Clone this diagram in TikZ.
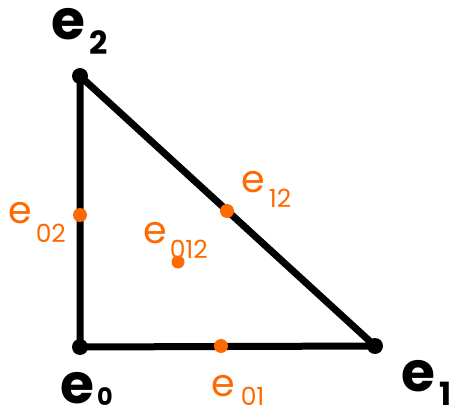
\documentclass[tikz,border=0pt]{standalone}
\usepackage{fontspec}
\setmainfont{Poppins}
\definecolor{orng}{HTML}{FF6A00}
\newcommand{\lbl}[5]{{\fontsize{#1}{#1}\selectfont e}\hspace{#5}\raisebox{-#3}{\fontsize{#2}{#2}\selectfont #4}}
\tikzset{
  vdot/.style={circle,fill=black,inner sep=0pt,minimum size=16pt},
  odot/.style={circle,fill=orng,inner sep=0pt,minimum size=14pt},
  blab/.style={anchor=base west,inner sep=0pt,font=\bfseries},
  olab/.style={anchor=base west,inner sep=0pt,text=orng},
  edge/.style={line width=7pt,line join=round,line cap=round}
}
\begin{document}
\begin{tikzpicture}[x=1pt,y=-1pt]
\useasboundingbox (0,0) rectangle (458,417);
\coordinate (e2) at (80,76);
\coordinate (e0) at (80,347);
\coordinate (e1) at (375,346);
\draw[edge] (e2) -- (e0) -- (e1) -- cycle;
\node[vdot] (d2) at (e2) {};
\node[vdot] (d0) at (e0) {};
\node[vdot] (d1) at (e1) {};
\node[odot] (m02) at (80,215) {};
\node[odot] (m12) at (227,211) {};
\node[odot] (m01) at (221,346) {};
\node[odot,minimum size=13pt] (m012) at (178,262) {};
\node[blab] (l2) at (51,40) {\lbl{55}{32}{15pt}{2}{4pt}};
\node[blab] (l0) at (60,403) {\lbl{55}{24}{2pt}{0}{3pt}};
\node[blab] (l1) at (401,391) {\lbl{55}{32}{14pt}{1}{4pt}};
\node[olab] (l02) at (8,223) {\lbl{38}{25}{19pt}{02}{4pt}};
\node[olab] (l12) at (241,193) {\lbl{38}{25}{15pt}{12}{4pt}};
\node[olab] (l012) at (143,243) {\lbl{38}{25}{15pt}{012}{3pt}};
\node[olab] (l01) at (211,396) {\lbl{38}{25}{9pt}{01}{6pt}};
\end{tikzpicture}
\end{document}
